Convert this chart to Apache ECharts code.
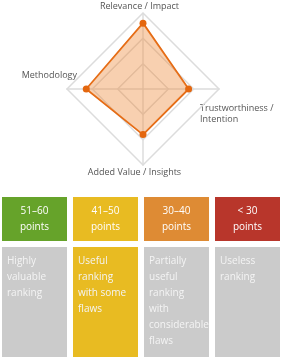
<!DOCTYPE html>
<html><head><meta charset="utf-8">
<script src="https://cdn.jsdelivr.net/npm/echarts@6/dist/echarts.min.js"></script>
<style>html,body{margin:0;padding:0;background:#fff}#c{width:281px;height:360px}</style>
</head><body><div id="c"></div>
<script>
// Data
const indicatorNames = ['Relevance / Impact', 'Methodology', 'Added Value / Insights', 'Trustworthiness /\nIntention'];
const indicatorMax = [15, 15, 15, 15];
const scoreValues = [13, 11.2, 9, 9];
const bandHeaders = ['51–60\npoints', '41–50\npoints', '30–40\npoints', '< 30\npoints'];
const bandTexts = ['Highly\nvaluable\nranking', 'Useful\nranking\nwith some\nflaws', 'Partially\nuseful\nranking\nwith\nconsiderable\nflaws', 'Useless\nranking'];
// Styles
const headerColors = ['#66a32a', '#e8bb22', '#de8b34', '#b8362b'];
const bodyColors = ['#cbcbcb', '#e8bb22', '#cbcbcb', '#cbcbcb'];
const FONT = '"Open Sans", sans-serif';

const chart = echarts.init(document.getElementById('c'), null, {renderer: 'canvas'});

const graphics = [];
// axis name labels
const labelStyle = {fill: '#555', font: '9px ' + FONT};
graphics.push({type: 'text', x: 139.5, y: 6, style: Object.assign({text: indicatorNames[0], textAlign: 'center', textVerticalAlign: 'middle'}, labelStyle)});
graphics.push({type: 'text', x: 77, y: 75, style: Object.assign({text: indicatorNames[1], textAlign: 'right', textVerticalAlign: 'middle'}, labelStyle)});
graphics.push({type: 'text', x: 134.5, y: 172.5, style: Object.assign({text: indicatorNames[2], textAlign: 'center', textVerticalAlign: 'middle'}, labelStyle)});
graphics.push({type: 'text', x: 200, y: 102.5, style: Object.assign({text: indicatorNames[3], textAlign: 'left', textVerticalAlign: 'top', lineHeight: 11}, labelStyle)});

for (let i = 0; i < 4; i++) {
  const x = 2 + i * 71;
  graphics.push({type: 'rect', shape: {x: x, y: 197, width: 65, height: 44}, style: {fill: headerColors[i]}});
  graphics.push({type: 'text', x: x + 32.5, y: 219, style: {text: bandHeaders[i], fill: '#fff', font: '10px ' + FONT, textAlign: 'center', textVerticalAlign: 'middle', lineHeight: 16}});
  graphics.push({type: 'rect', shape: {x: x, y: 247, width: 65, height: 110}, style: {fill: bodyColors[i]}});
  graphics.push({type: 'text', x: x + 5, y: 253, style: {text: bandTexts[i], fill: '#f4f4f4', font: '10px ' + FONT, textAlign: 'left', textVerticalAlign: 'top', lineHeight: 16}});
}

chart.setOption({
  animation: false,
  radar: {
    center: [143, 89],
    radius: 76,
    startAngle: 90,
    splitNumber: 3,
    shape: 'polygon',
    indicator: indicatorNames.map((n, i) => ({name: n, max: indicatorMax[i], min: 0})),
    axisName: {show: false},
    splitArea: {show: false},
    splitLine: {lineStyle: {color: '#dcdcdc', width: 1.5}},
    axisLine: {lineStyle: {color: '#dcdcdc', width: 1.5}},
    axisTick: {show: false},
    axisLabel: {show: false}
  },
  series: [{
    type: 'radar',
    symbol: 'circle',
    symbolSize: 7,
    lineStyle: {color: '#e4670f', width: 1.8},
    itemStyle: {color: '#e4670f'},
    areaStyle: {color: '#ee8a3a', opacity: 0.4},
    data: [{value: scoreValues}]
  }],
  graphic: graphics
});
</script></body></html>
